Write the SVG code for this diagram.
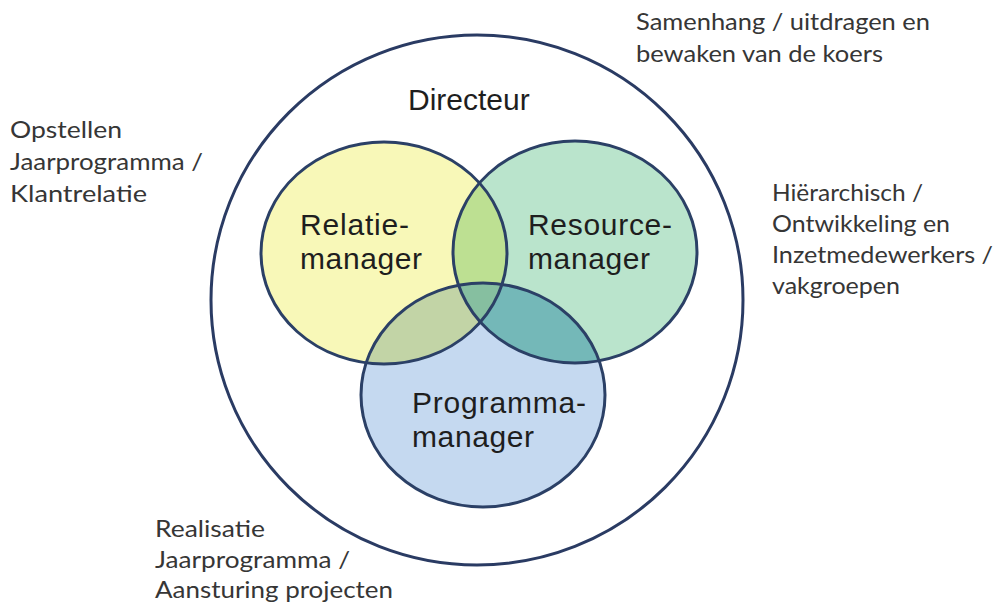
<svg xmlns="http://www.w3.org/2000/svg" width="1001" height="605" viewBox="0 0 1001 605">
<style>
.ann{font-family:Lato,"Open Sans",sans-serif;font-size:23px;fill:#363636}
.lbl{font-family:"Liberation Sans",Arial,sans-serif;font-size:30px;fill:#1e1e1e}
.ol{fill:none;stroke:#2b4066;stroke-width:3}
</style>
<defs>
<ellipse id="eY" cx="384" cy="253" rx="123" ry="111"/>
<ellipse id="eG" cx="575" cy="252" rx="122" ry="111"/>
<ellipse id="eB" cx="483" cy="395" rx="122" ry="112"/>
<clipPath id="cY"><use href="#eY"/></clipPath>
<clipPath id="cG"><use href="#eG"/></clipPath>
<clipPath id="cB"><use href="#eB"/></clipPath>
</defs>
<rect width="1001" height="605" fill="#ffffff"/>
<g id="directeur">
<ellipse cx="477" cy="300" rx="266" ry="265" fill="none" stroke="#2a3b63" stroke-width="3"/>
<text class="lbl" x="408" y="110" font-size="31">Directeur</text>
</g>
<g id="relatiemanager">
<use href="#eY" fill="#f8f8b8"/>
<text class="lbl" x="300" y="235" textLength="109">Relatie-</text>
<text class="lbl" x="300" y="269" textLength="122">manager</text>
</g>
<g id="resourcemanager">
<use href="#eG" fill="#bae4cc"/>
<text class="lbl" x="528" y="235" textLength="144">Resource-</text>
<text class="lbl" x="528" y="269" textLength="122">manager</text>
</g>
<g id="programmamanager">
<use href="#eB" fill="#c5d9f0"/>
<text class="lbl" x="412" y="413" textLength="174">Programma-</text>
<text class="lbl" x="412" y="447" textLength="122">manager</text>
</g>
<g id="overlaps">
<use href="#eG" clip-path="url(#cY)" fill="#bde092"/>
<use href="#eB" clip-path="url(#cY)" fill="#c2d4a6"/>
<use href="#eB" clip-path="url(#cG)" fill="#74b8b8"/>
<g clip-path="url(#cY)"><use href="#eB" clip-path="url(#cG)" fill="#86bfa0"/></g>
</g>
<g id="outlines">
<use href="#eY" class="ol"/>
<use href="#eG" class="ol"/>
<use href="#eB" class="ol"/>
</g>
<g id="annotations">
<text class="ann" x="636" y="30" textLength="294" lengthAdjust="spacingAndGlyphs">Samenhang / uitdragen en</text>
<text class="ann" x="636" y="62" textLength="247" lengthAdjust="spacingAndGlyphs">bewaken van de koers</text>
<text class="ann" x="10" y="138" textLength="112" lengthAdjust="spacingAndGlyphs">Opstellen</text>
<text class="ann" x="10" y="170" textLength="193" lengthAdjust="spacingAndGlyphs">Jaarprogramma /</text>
<text class="ann" x="10" y="202" textLength="137" lengthAdjust="spacingAndGlyphs">Klantrelatie</text>
<text class="ann" x="772" y="201" textLength="151" lengthAdjust="spacingAndGlyphs">Hiërarchisch /</text>
<text class="ann" x="772" y="232" textLength="178" lengthAdjust="spacingAndGlyphs">Ontwikkeling en</text>
<text class="ann" x="772" y="263" textLength="221" lengthAdjust="spacingAndGlyphs">Inzetmedewerkers /</text>
<text class="ann" x="772" y="294" textLength="128" lengthAdjust="spacingAndGlyphs">vakgroepen</text>
<text class="ann" x="155" y="537" textLength="110" lengthAdjust="spacingAndGlyphs">Realisatie</text>
<text class="ann" x="155" y="568" textLength="195" lengthAdjust="spacingAndGlyphs">Jaarprogramma /</text>
<text class="ann" x="155" y="598" textLength="238" lengthAdjust="spacingAndGlyphs">Aansturing projecten</text>
</g>
</svg>
